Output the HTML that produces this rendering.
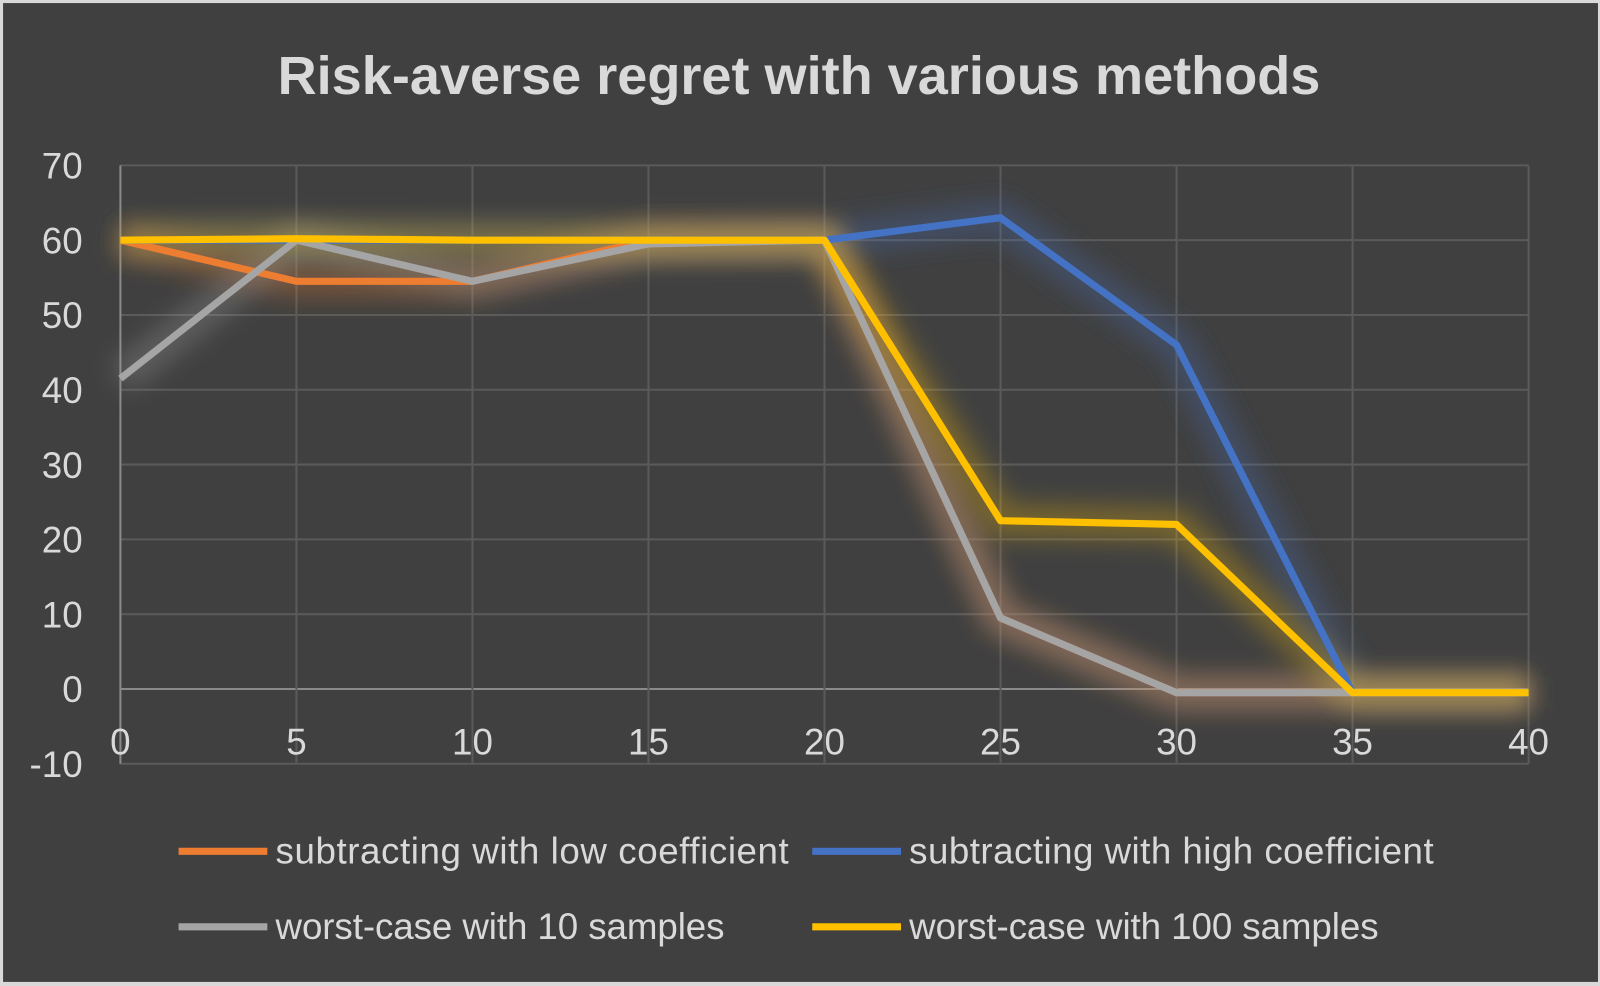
<!DOCTYPE html>
<html><head><meta charset="utf-8"><style>
body{margin:0;background:#fff;}
svg{display:block;font-family:"Liberation Sans",sans-serif;}
</style></head><body>
<svg id="chart" width="1600" height="986" viewBox="0 0 1568 966" preserveAspectRatio="none">
<defs><filter id="glow" x="-30%" y="-30%" width="160%" height="160%"><feGaussianBlur stdDeviation="12"/></filter></defs>
<rect x="0" y="0" width="1568" height="966" fill="#d9d9d9"/>
<rect x="3" y="3" width="1563" height="959" fill="#404040"/>
<text x="783" y="92" text-anchor="middle" font-size="53" font-weight="bold" fill="#d9d9d9">Risk-averse regret with various methods</text>
<g id="grid"></g><g id="glows"></g><g id="lines"></g><g id="labels"></g>
<g>
<line x1="175" y1="834" x2="262" y2="834" stroke="#ed7d31" stroke-width="7"/>
<text x="270" y="846" font-size="36" textLength="503" fill="#d9d9d9">subtracting with low coefficient</text>
<line x1="796" y1="834" x2="883" y2="834" stroke="#4472c4" stroke-width="7"/>
<text x="891" y="846" font-size="36" textLength="514" fill="#d9d9d9">subtracting with high coefficient</text>
<line x1="175" y1="908" x2="262" y2="908" stroke="#a5a5a5" stroke-width="7"/>
<text x="270" y="920" font-size="36" textLength="440" fill="#d9d9d9">worst-case with 10 samples</text>
<line x1="796" y1="908" x2="883" y2="908" stroke="#ffc000" stroke-width="7"/>
<text x="891" y="920" font-size="36" textLength="460" fill="#d9d9d9">worst-case with 100 samples</text>
</g>
</svg>
<script>
const xCats=[0,5,10,15,20,25,30,35,40];
const yTicks=[-10,0,10,20,30,40,50,60,70];
const lowCoef=[60,54.5,54.5,60,60,9.5,-0.5,-0.5,-0.5];
const highCoef=[60,60,60,60,60,63,46,-0.5,-0.5];
const wc10=[41.5,60,54.5,59.5,60,9.5,-0.5,-0.5,-0.5];
const wc100=[60,60.2,60,60,60,22.5,22,-0.5,-0.5];
const X=v=>118+(v-0)*(1498-118)/40;
const Y=v=>675-v*(675-162)/70;
const NS="http://www.w3.org/2000/svg";
function mk(t,a,p){const e=document.createElementNS(NS,t);for(const k in a)e.setAttribute(k,a[k]);p.appendChild(e);return e;}
const grid=document.getElementById('grid'),labels=document.getElementById('labels');
yTicks.forEach(t=>{
 const l=mk('line',{x1:118,x2:1498,y1:Y(t),y2:Y(t),stroke:t===0?'#8a8a8a':'#5a5a5a','stroke-width':2},grid);
 
 
 const tx=mk('text',{x:81,y:Y(t)+13,'text-anchor':'end','font-size':36,fill:'#d9d9d9'},labels);
 tx.textContent=t;
 
 
});
xCats.forEach(c=>{
 const l=mk('line',{x1:X(c),x2:X(c),y1:Y(70),y2:Y(-10),stroke:c===0?'#8a8a8a':'#5a5a5a','stroke-width':2},grid);
 
 
 const tx=mk('text',{x:X(c),y:739,'text-anchor':'middle','font-size':36,fill:'#d9d9d9'},labels);
 tx.textContent=c;
 
 
});
const series=[[lowCoef,'#ed7d31','series-low-coefficient'],[highCoef,'#4472c4','series-high-coefficient'],[wc10,'#a5a5a5','series-worst-case-10'],[wc100,'#ffc000','series-worst-case-100']];
const glows=document.getElementById('glows'),lines=document.getElementById('lines');
series.forEach(([d,c,n])=>{
 const pts=d.map((v,i)=>X(xCats[i])+','+Y(v)).join(' ');
 const g=mk('polyline',{points:pts,fill:'none',stroke:c,'stroke-width':32,'stroke-opacity':0.3,filter:'url(#glow)','stroke-linejoin':'round'},glows);
 
 
 const p=mk('polyline',{points:pts,fill:'none',stroke:c,'stroke-width':7,'stroke-linejoin':'round'},lines);
 
 
});
</script>
</body></html>
